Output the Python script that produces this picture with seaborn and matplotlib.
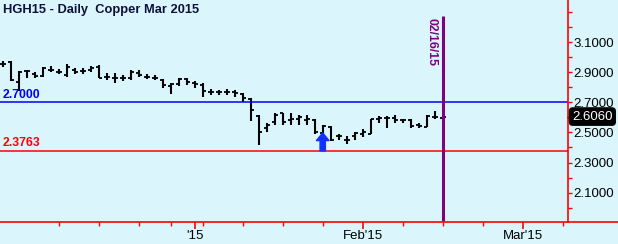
import matplotlib
matplotlib.use("Agg")
import matplotlib.pyplot as plt
from matplotlib.lines import Line2D
from matplotlib.ticker import FixedLocator, FormatStrFormatter
import seaborn as sns
import pandas as pd

# ---------------- data ----------------
day_index = [-7, -6, -5, -4, -3, -2, -1, 0, 1, 2, 3, 4, 5, 6, 7, 8, 9, 10, 11, 12,
             13, 14, 15, 16, 17, 18, 19, 20, 21, 22, 23, 24, 25, 26, 27, 28, 29, 30,
             31, 32, 33, 34, 35, 36, 37, 38, 39, 40, 41, 42, 43, 44, 45, 46, 47, 48]
opens = [2.953, 2.967, 2.835, 2.909, 2.887, 2.875, 2.915, 2.904, 2.882, 2.915,
         2.911, 2.915, 2.937, 2.871, 2.864, 2.860, 2.860, 2.893, 2.871, 2.864,
         2.849, 2.811, 2.820, 2.855, 2.827, 2.815, 2.771, 2.767, 2.771, 2.771,
         2.753, 2.722, 2.611, 2.527, 2.571, 2.627, 2.582, 2.593, 2.582, 2.582,
         2.495, 2.537, 2.475, 2.453, 2.475, 2.489, 2.493, 2.589, 2.597, 2.597,
         2.582, 2.582, 2.549, 2.537, 2.604, 2.597]
highs = [2.975, 2.975, 2.912, 2.915, 2.900, 2.937, 2.942, 2.922, 2.953, 2.927,
         2.927, 2.942, 2.949, 2.893, 2.893, 2.882, 2.915, 2.915, 2.887, 2.882,
         2.855, 2.827, 2.864, 2.864, 2.842, 2.827, 2.789, 2.782, 2.789, 2.782,
         2.760, 2.731, 2.615, 2.560, 2.627, 2.633, 2.633, 2.615, 2.615, 2.589,
         2.549, 2.542, 2.493, 2.475, 2.504, 2.520, 2.593, 2.611, 2.611, 2.615,
         2.593, 2.593, 2.560, 2.615, 2.642, 2.611]
lows = [2.937, 2.842, 2.775, 2.860, 2.860, 2.871, 2.904, 2.887, 2.871, 2.889,
        2.889, 2.904, 2.860, 2.849, 2.827, 2.842, 2.849, 2.871, 2.855, 2.849,
        2.793, 2.753, 2.811, 2.815, 2.797, 2.737, 2.749, 2.749, 2.749, 2.737,
        2.704, 2.575, 2.415, 2.504, 2.549, 2.549, 2.553, 2.549, 2.549, 2.487,
        2.469, 2.444, 2.449, 2.422, 2.449, 2.471, 2.493, 2.560, 2.527, 2.560,
        2.560, 2.527, 2.527, 2.537, 2.589, 2.582]
closes = [2.957, 2.849, 2.905, 2.909, 2.875, 2.927, 2.915, 2.904, 2.937, 2.904,
          2.911, 2.927, 2.864, 2.871, 2.864, 2.860, 2.904, 2.882, 2.871, 2.864,
          2.815, 2.820, 2.855, 2.837, 2.820, 2.775, 2.771, 2.767, 2.771, 2.760,
          2.727, 2.649, 2.500, 2.553, 2.615, 2.571, 2.593, 2.604, 2.593, 2.500,
          2.542, 2.452, 2.475, 2.453, 2.497, 2.504, 2.589, 2.597, 2.597, 2.582,
          2.582, 2.544, 2.544, 2.611, 2.604, 2.606]

month_ticks = [17, 38, 58]
month_labels = ["'15", "Feb'15", "Mar'15"]
week_ticks = [0, 5, 10, 14, 18, 23, 28, 33, 43, 48, 53, 63]

title_text = "HGH15 - Daily  Copper Mar 2015"
resistance = 2.7000
support = 2.3763
marker_day = 48
marker_label = "02/16/15"
arrow_day = 33
arrow_from = 2.377
arrow_to = 2.497
last_price = 2.6060

df = pd.DataFrame({"day": day_index, "open": opens, "high": highs,
                   "low": lows, "close": closes})

# ---------------- style ----------------
BG = "#daf6fc"
sns.set_style("white", {"axes.facecolor": BG, "figure.facecolor": BG})
plt.rcParams["font.family"] = ["Liberation Sans", "DejaVu Sans"]

fig = plt.figure(figsize=(6.18, 2.44), dpi=100)
ax = fig.add_axes([0.0, 21.7 / 244, 567.6 / 618, 222.3 / 244])
ax.set_facecolor(BG)

# OHLC bars
ax.vlines(df["day"], df["low"], df["high"], color="black", lw=1.5)
ax.hlines(df["open"], df["day"] - 0.36, df["day"], color="black", lw=1.3)
ax.hlines(df["close"], df["day"], df["day"] + 0.36, color="black", lw=1.3)

ax.set_xlim(-7.34, 63.61)
ax.set_ylim(1.902, 3.382)

# level lines
ax.axhline(resistance, color="#0000ff", lw=1.1)
ax.axhline(support, color="#ff0000", lw=1.1)
ax.text(-7.0, resistance + 0.012, f"{resistance:.4f}", color="#0000ff",
        fontsize=8.8, fontweight="bold", ha="left", va="bottom")
ax.text(-7.0, support + 0.012, f"{support:.4f}", color="#ff0000",
        fontsize=8.8, fontweight="bold", ha="left", va="bottom")

# date marker
ax.vlines(marker_day, 1.911, 3.275, color="#800080", lw=2.2)
ax.text(marker_day - 1.45, 3.262, marker_label, rotation=-90, color="#800080",
        fontsize=8.8, fontweight="bold", ha="center", va="top")

# blue arrow
ax.annotate("", xy=(arrow_day, arrow_to), xytext=(arrow_day, arrow_from),
            arrowprops=dict(arrowstyle="simple,head_length=0.55,head_width=0.9,tail_width=0.38",
                            mutation_scale=10, color="#1030ff", shrinkA=0, shrinkB=0))

# title
fig.text(3 / 618, 1 - 10 / 244, title_text, color="#10103a", fontsize=9.3,
         fontweight="bold", ha="left", va="center")

# axes styling
for s in ["top", "left"]:
    ax.spines[s].set_visible(False)
for s in ["bottom", "right"]:
    ax.spines[s].set_visible(True)
    ax.spines[s].set_color("#ff0000")
    ax.spines[s].set_linewidth(1.2)

ax.yaxis.tick_right()
ax.yaxis.set_major_locator(FixedLocator([2.1, 2.3, 2.5, 2.7, 2.9, 3.1]))
ax.yaxis.set_minor_locator(FixedLocator([2.0, 2.2, 2.4, 2.6, 2.8, 3.0, 3.2, 3.3]))
ax.yaxis.set_major_formatter(FormatStrFormatter("%.4f"))
ax.tick_params(axis="y", which="both", direction="out", length=3, width=1,
               color="#ff0000", labelcolor="black", labelsize=9.5, pad=1,
               left=False, right=True)

ax.xaxis.set_major_locator(FixedLocator(month_ticks))
ax.xaxis.set_minor_locator(FixedLocator(week_ticks))
ax.set_xticklabels(month_labels)
ax.tick_params(axis="x", which="major", direction="out", length=5, width=1.2,
               color="#ff0000", labelcolor="black", labelsize=9.5, pad=0.5,
               bottom=True)
ax.tick_params(axis="x", which="minor", direction="out", length=3, width=1,
               color="#ff0000", bottom=True)
ax.set_xlabel("")
ax.set_ylabel("")

# bottom line extends beyond the plot
fig.add_artist(Line2D([567.6 / 618, 1.0], [21.7 / 244, 21.7 / 244],
                      transform=fig.transFigure, color="#ff0000", lw=1.2))

# last price tag
ax.text(1.008, last_price, f"{last_price:.4f}", transform=ax.get_yaxis_transform(),
        color="white", fontsize=9.5, ha="left", va="center", clip_on=False,
        bbox=dict(boxstyle="round,pad=0.2,rounding_size=0.25", fc="black", ec="black"))
ax.plot([1.004], [last_price], marker="<", ms=5, color="black",
        transform=ax.get_yaxis_transform(), clip_on=False)

fig.savefig("out.png", dpi=100, facecolor=BG)
